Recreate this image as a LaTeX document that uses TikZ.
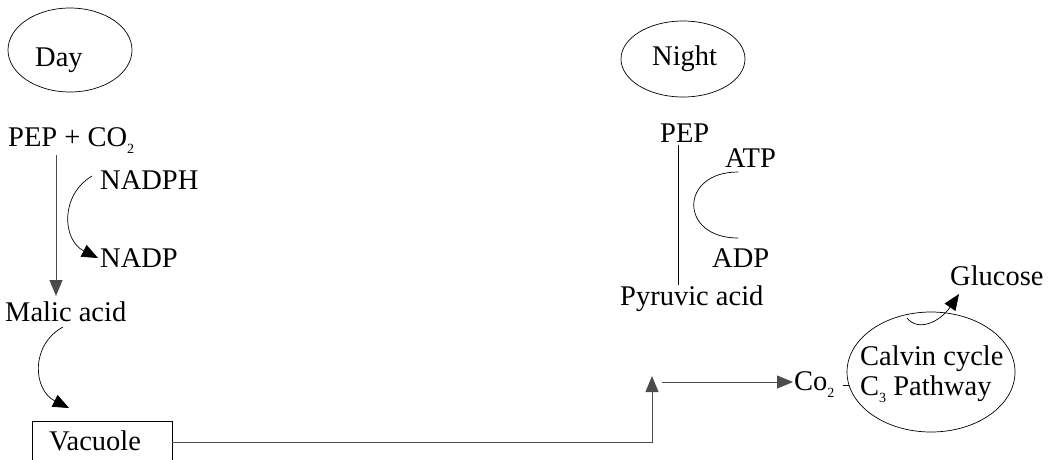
\documentclass[tikz,border=0pt]{standalone}
\usepackage{fontspec}
\setmainfont{Liberation Serif}
\usetikzlibrary{arrows.meta,shapes.geometric}
\newcommand\mysub[1]{\raisebox{-0.28em}{\fontsize{14}{14}\selectfont #1}}
\tikzset{
  x=1pt,y=-1pt,
  lbl/.style={inner sep=0pt,anchor=base west,font=\fontsize{28.5}{30}\selectfont},
  oval/.style={draw,ellipse,inner sep=0pt,line width=0.7pt},
  conn/.style={draw=black!70,line width=0.9pt},
  curv/.style={draw=black,line width=0.7pt},
  tip/.style={-{Triangle[length=16pt,width=13pt]}},
}
\begin{document}
\begin{tikzpicture}
\useasboundingbox (0,0) rectangle (1048,459);
% ellipses
\node[oval,minimum width=124pt,minimum height=84pt] (dayov) at (70,50) {};
\node[lbl] (day) at (35,66) {Day};
\node[oval,minimum width=124pt,minimum height=76pt] (nightov) at (683,59) {};
\node[lbl] (night) at (652,65) {Night};
\node[oval,minimum width=168pt,minimum height=120pt] (calvin) at (931,372) {};
\node[lbl] (calv1) at (860,365) {Calvin cycle};
\node[lbl] (calv2) at (860,395) {C\mysub{3} Pathway};
% day texts
\node[lbl] (pepco) at (8,146) {PEP + CO\mysub{2}};
\node[lbl] (nadph) at (100,189) {NADPH};
\node[lbl] (nadp) at (100,267) {NADP};
\node[lbl] (malic) at (5,321) {Malic acid};
\node[draw,line width=0.8pt,inner sep=0pt,minimum width=140pt,minimum height=60pt,anchor=north west] (vac) at (32,421) {};
\node[lbl] (vact) at (49,450) {Vacuole};
% night texts
\node[lbl] (pepn) at (660,142) {PEP};
\node[lbl] (atp) at (725,167) {ATP};
\node[lbl] (adp) at (712,267) {ADP};
\node[lbl] (pyr) at (620,305) {Pyruvic acid};
\node[lbl] (co2) at (794,390) {Co\mysub{2}};
\node[lbl] (glu) at (950,285) {Glucose};
% coordinates
\coordinate (a1) at (56,155);
\coordinate (a2) at (56,296);
\coordinate (n1) at (92,176);
\coordinate (n2) at (98,258);
\coordinate (m1) at (63,327);
\coordinate (m2) at (69,408);
\coordinate (v1) at (172,442);
\coordinate (v2) at (652,442);
\coordinate (v3) at (652,376);
\coordinate (h1) at (662,382);
\coordinate (h2) at (793,382);
\coordinate (p1) at (678,145);
\coordinate (p2) at (678,285);
\coordinate (r1) at (738,172);
\coordinate (r2) at (738,238);
\coordinate (d1) at (843,385);
\coordinate (d2) at (849,385);
\coordinate (g1) at (907,318);
\coordinate (g2) at (959,294);
% connectors
\draw[conn,tip] (a1) -- (a2);
\draw[curv,tip] (n1) .. controls (60,195) and (62,240) .. (n2);
\draw[curv,tip] (m1) .. controls (30,345) and (33,390) .. (m2);
\draw[conn,tip] (v1) -- (v2) -- (v3);
\draw[conn,tip] (h1) -- (h2);
\draw[curv] (p1) -- (p2);
\draw[curv] (r1) .. controls (679,172) and (679,238) .. (r2);
\draw[curv] (d1) -- (d2);
\draw[curv,tip] (g1) .. controls (918,332) and (940,322) .. (g2);
\end{tikzpicture}
\end{document}
